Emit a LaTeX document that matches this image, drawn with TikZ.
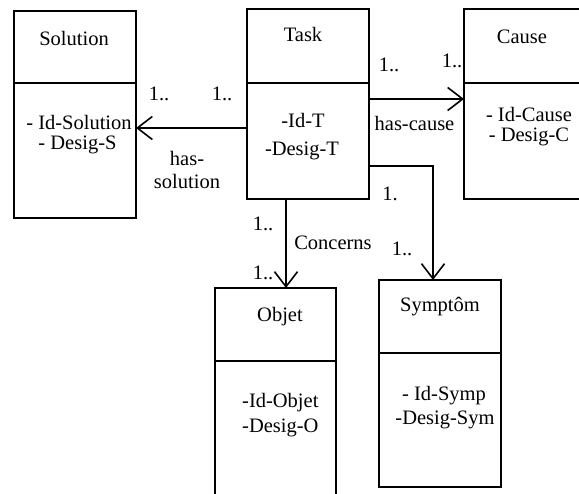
\documentclass[tikz,border=0pt]{standalone}
\usepackage{fontspec}
\setmainfont{Liberation Serif}
\usetikzlibrary{arrows.meta}
\begin{document}
\begin{tikzpicture}[x=1pt,y=-1pt,
  box/.style={draw, line width=1.6pt, rectangle, inner sep=0pt, outer sep=0pt, anchor=north west},
  divider/.style={line width=1.6pt},
  link/.style={line width=1.6pt, -{Straight Barb[length=15pt,width=23pt,line width=1.6pt]}},
  txt/.style={font=\fontsize{20.5}{22}\selectfont, inner sep=0pt, anchor=base},
  ltxt/.style={txt, anchor=base west}]
\useasboundingbox (0,0) rectangle (579,494);
\clip (0,0) rectangle (579,494);
% boxes
\node[box, minimum width=122pt, minimum height=207pt] (sol) at (14,11) {};
\node[box, minimum width=122pt, minimum height=190pt] (task) at (247,9) {};
\node[box, minimum width=140pt, minimum height=190pt] (cause) at (464,9) {};
\node[box, minimum width=121pt, minimum height=240pt] (obj) at (215,288) {};
\node[box, minimum width=122pt, minimum height=207pt] (sym) at (379,280) {};
% dividers
\draw[divider] (sol.west |- 0,83) -- (sol.east |- 0,83);
\draw[divider] (task.west |- 0,83) -- (task.east |- 0,83);
\draw[divider] (cause.west |- 0,83) -- (cause.east |- 0,83);
\draw[divider] (obj.west |- 0,361) -- (obj.east |- 0,361);
\draw[divider] (sym.west |- 0,353) -- (sym.east |- 0,353);
% box texts
\node[txt] (solT) at (74,46) {Solution};
\node[txt] (solA) at (79,130) {- Id-Solution};
\node[txt] (solB) at (77.5,150) {- Desig-S};
\node[txt] (taskT) at (303,42) {Task};
\node[txt] (taskA) at (303,128) {-Id-T};
\node[txt] (taskB) at (302,156) {-Desig-T};
\node[txt] (causeT) at (522,44) {Cause};
\node[txt] (causeA) at (529,122) {- Id-Cause};
\node[txt] (causeB) at (529,142) {- Desig-C};
\node[txt] (objT) at (280,322) {Objet};
\node[ltxt] (objA) at (242,408) {-Id-Objet};
\node[ltxt] (objB) at (242,433) {-Desig-O};
\node[txt] (symT) at (440,312) {Symptôm};
\node[txt] (symA) at (444,401) {- Id-Symp};
\node[txt] (symB) at (445,425) {-Desig-Sym};
% connectors
\coordinate (c1) at (0,128);
\coordinate (c2) at (0,99);
\coordinate (c3) at (0,166);
\coordinate (c4) at (286,0);
\coordinate (c5) at (433,0);
\draw[link] (task.west |- c1) -- (sol.east |- c1);
\draw[link] (task.east |- c2) -- (cause.west |- c2);
\draw[link] (task.south -| c4) -- (obj.north -| c4);
\draw[link] (task.east |- c3) -| (sym.north -| c5);
% labels
\node[txt] (m1) at (159,101) {1..};
\node[txt] (m2) at (222,101) {1..};
\node[txt] (l1a) at (187,166) {has-};
\node[txt] (l1b) at (187,189) {solution};
\node[txt] (m3) at (389,72) {1..};
\node[txt] (m4) at (452,68) {1..};
\node[txt] (l2) at (414.5,131) {has-cause};
\node[txt] (m5) at (390,201) {1.};
\node[txt] (m6) at (263,231) {1..};
\node[txt] (l3) at (333,250) {Concerns};
\node[txt] (m7) at (263,280) {1..};
\node[txt] (m8) at (402,256) {1..};
\end{tikzpicture}
\end{document}
